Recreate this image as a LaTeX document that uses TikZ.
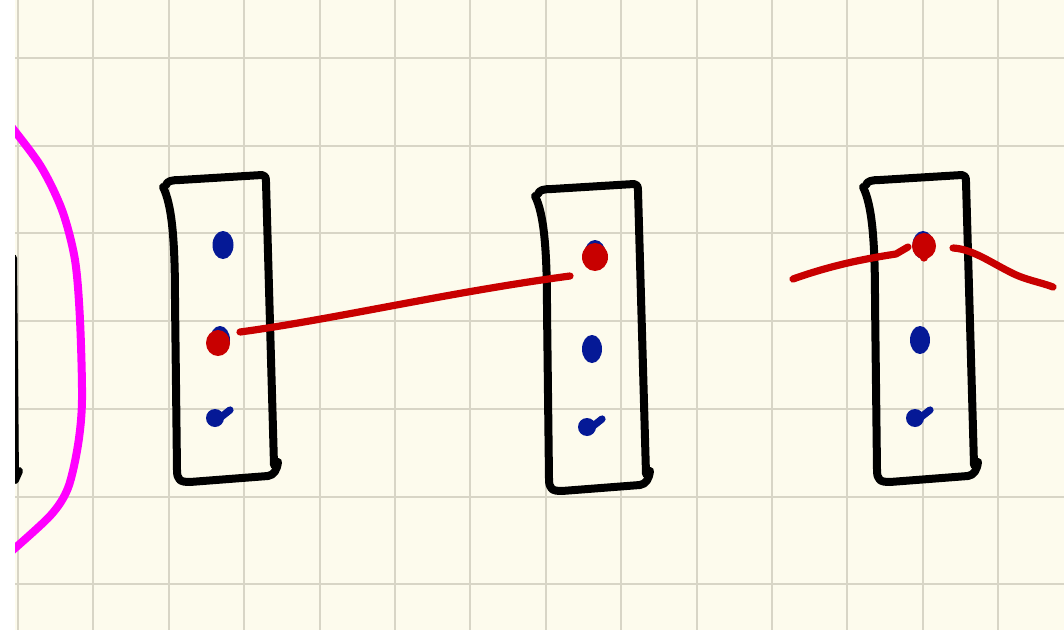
\documentclass[tikz,border=0pt]{standalone}
\usetikzlibrary{calc}
\definecolor{paper}{RGB}{253,251,237}
\definecolor{gridgray}{RGB}{216,213,198}
\definecolor{inkblue}{RGB}{5,25,150}
\definecolor{inkred}{RGB}{200,0,0}
\definecolor{inkpink}{RGB}{255,0,255}
\tikzset{
  gridline/.style={gridgray, line width=0.05cm},
  boxline/.style={black, line width=0.2cm, line cap=round, line join=round},
  redline/.style={inkred, line width=0.18cm, line cap=round, line join=round},
  hump/.style={inkpink, line width=0.2cm},
}
\begin{document}
\begin{tikzpicture}[x=0.025cm,y=-0.025cm]
	\useasboundingbox (0,0) rectangle (1064,630);
	\clip (15,0) rectangle (1064,630);
	\fill[paper] (15,0) rectangle (1064,630);
	\foreach \i in {0,...,13} \draw[gridline] ({18+75.4*\i},0) -- ++(0,630);
	\foreach \j in {0,...,6} \draw[gridline] (15,{58+87.7*\j}) -- ++(1049,0);
	% left edge, cut off
	\draw[boxline] (13,258) -- (15,480) -- (19,471);
	\draw[hump] plot[smooth] coordinates {(6,120) (40,165) (62,210) (75,260) (80,320) (82,400) (78,445) (68,488) (50,516) (6,556)};
	% the three boxes and their dots
	\foreach \n/\dx/\dy in {1/0/0, 2/372/9, 3/700/0} {
		\begin{scope}[shift={(\dx,\dy)}]
			\draw[boxline] (163,187) .. controls (172,205) and (175,240) .. (175,300) -- (177,470) .. controls (177,480) and (180,482) .. (190,482) -- (268,476) .. controls (274,475) and (277,470) .. (278,462);
			\draw[boxline] (166,185) .. controls (167,181) and (172,180) .. (180,180) -- (262,175) .. controls (265,175) and (266,177) .. (266,182) -- (274,465);
			\coordinate (top\n) at (223,245);
			\coordinate (mid\n) at (220,340);
			\coordinate (low\n) at (215,418);
			\fill[inkblue] (top\n) ellipse (10.5 and 14);
			\fill[inkblue] (mid\n) ellipse (10 and 14);
			\fill[inkblue] (low\n) circle (9);
			\draw[inkblue, line width=0.18cm, line cap=round] (216,421) -- (230,410);
		\end{scope}
	}
	% red marks
	\fill[inkred] ($(mid1)+(-2,3)$) ellipse (12 and 13);
	\fill[inkred] ($(top2)+(0,3)$) ellipse (13 and 14);
	\fill[inkred] ($(top3)+(1,1)$) ellipse (12 and 13);
	\draw[redline] ($(top3)+(1,2)$) -- ($(top3)+(1,13)$);
	\coordinate (a1) at (240,332);
	\coordinate (a2) at (570,276);
	\coordinate (b1) at (793,279);
	\coordinate (b2) at (908,247);
	\coordinate (c1) at (953,248);
	\coordinate (c2) at (1053,287);
	\draw[redline] (a1) .. controls (330,320) and (450,292) .. (a2);
	\draw[redline] (b1) .. controls (835,264) and (870,258) .. (896,254) -- (b2);
	\draw[redline] (c1) .. controls (972,249) and (990,262) .. (1010,272) .. controls (1025,280) and (1040,282) .. (c2);
\end{tikzpicture}
\end{document}
